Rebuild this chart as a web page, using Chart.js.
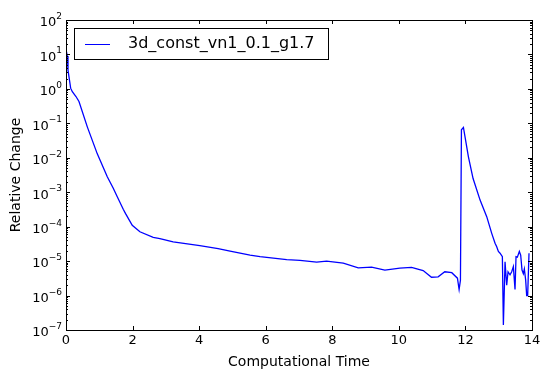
<!DOCTYPE html>
<html lang="en">
<head>
  <meta charset="UTF-8">
  <title>Relative Change</title>
  <script src="https://cdn.jsdelivr.net/npm/chart.js"></script>
  <style>
    html, body { margin: 0; padding: 0; background: #fff; }
    #wrap { width: 549px; height: 380px; }
  </style>
</head>
<body>
  <div id="wrap"><canvas id="chart" width="549" height="380"></canvas></div>

  <script>
    // data
    const seriesName = '3d_const_vn1_0.1_g1.7';
    const times = [0, 0.04, 0.06, 0.14, 0.19, 0.3, 0.39, 0.64, 0.94, 1.24, 1.42, 1.54, 1.72,
      1.79, 1.99, 2.22, 2.62, 2.82, 3.22, 4.02, 4.57, 4.93, 5.53, 5.83, 6.63, 7.03, 7.53, 7.83,
      8.33, 8.78, 9.18, 9.58, 10.03, 10.38, 10.73, 10.98, 11.18, 11.38, 11.59, 11.76, 11.81,
      11.85, 11.88, 11.94, 12.09, 12.23, 12.44, 12.64, 12.79, 12.89, 12.94, 12.99, 13.04, 13.11,
      13.14, 13.19, 13.24, 13.28, 13.34, 13.39, 13.44, 13.49, 13.52, 13.56, 13.62, 13.66, 13.70,
      13.74, 13.77, 13.81, 13.84, 13.87, 13.91];
    const relChange = [14, 9, 3.5, 1.05, 0.83, 0.6, 0.43, 0.079, 0.013, 0.0028, 0.0013, 7.4e-4,
      3.2e-4, 2.4e-4, 1.1e-4, 7.1e-5, 4.9e-5, 4.5e-5, 3.6e-5, 2.8e-5, 2.3e-5, 1.95e-5, 1.5e-5,
      1.35e-5, 1.1e-5, 1.05e-5, 9.3e-6, 1e-5, 8.7e-6, 6.4e-6, 6.7e-6, 5.5e-6, 6.3e-6, 6.6e-6,
      5.3e-6, 3.4e-6, 3.5e-6, 4.9e-6, 4.6e-6, 3.2e-6, 1.5e-6, 2.8e-6, 0.065, 0.076, 0.0107,
      2.5e-3, 5.9e-4, 1.95e-4, 6.4e-5, 3.3e-5, 2.6e-5, 1.9e-5, 1.7e-5, 1.35e-5, 1.4e-7, 9.5e-6,
      2e-6, 4.9e-6, 4e-6, 4.9e-6, 6.9e-6, 1.5e-6, 1.35e-5, 1.3e-5, 1.9e-5, 1.5e-5, 5.5e-6,
      4.3e-6, 5.9e-6, 2.8e-6, 1e-6, 1e-6, 1.7e-5];
    const xTicks = [0, 2, 4, 6, 8, 10, 12, 14];
    const yExponents = [-7, -6, -5, -4, -3, -2, -1, 0, 1, 2];

    const FONT = '"DejaVu Sans", sans-serif';

    function sup(n) {
      return n < 0 ? '\u2212' + (-n) : String(n);
    }

    // matplotlib-like frame, ticks, labels and legend
    const mplAxes = {
      id: 'mplAxes',
      afterDraw(chart) {
        const c = chart.ctx;
        const a = chart.chartArea;
        const xs = chart.scales.x, ys = chart.scales.y;
        c.save();
        c.strokeStyle = '#000';
        c.fillStyle = '#000';
        c.lineWidth = 1;

        // frame
        c.strokeRect(Math.round(a.left) + 0.5, Math.round(a.top) + 0.5,
          Math.round(a.right - a.left), Math.round(a.bottom - a.top));

        c.beginPath();
        // x ticks, bottom and top
        xTicks.forEach(t => {
          const px = Math.round(xs.getPixelForValue(t)) + 0.5;
          c.moveTo(px, a.bottom); c.lineTo(px, a.bottom - 4);
          c.moveTo(px, a.top); c.lineTo(px, a.top + 4);
        });
        // y ticks, left and right, major + minor
        yExponents.forEach(e => {
          const py = Math.round(ys.getPixelForValue(Math.pow(10, e))) + 0.5;
          c.moveTo(a.left, py); c.lineTo(a.left + 4, py);
          c.moveTo(a.right, py); c.lineTo(a.right - 4, py);
          if (e < 2) {
            for (let m = 2; m <= 9; m++) {
              const my = Math.round(ys.getPixelForValue(m * Math.pow(10, e))) + 0.5;
              c.moveTo(a.left, my); c.lineTo(a.left + 2, my);
              c.moveTo(a.right, my); c.lineTo(a.right - 2, my);
            }
          }
        });
        c.stroke();

        // x tick labels
        c.font = '13px ' + FONT;
        c.textAlign = 'center';
        c.textBaseline = 'top';
        xTicks.forEach(t => {
          c.fillText(String(t), xs.getPixelForValue(t), a.bottom + 4);
        });

        // y tick labels 10^e
        yExponents.forEach(e => {
          const py = ys.getPixelForValue(Math.pow(10, e));
          const ex = sup(e);
          c.font = '9px ' + FONT;
          const ew = c.measureText(ex).width;
          c.textAlign = 'left';
          c.textBaseline = 'alphabetic';
          c.fillText(ex, a.left - 4 - ew, py - 1);
          c.font = '13px ' + FONT;
          c.textAlign = 'right';
          c.textBaseline = 'middle';
          c.fillText('10', a.left - 4 - ew, py + 3);
        });

        // axis titles
        c.font = '14px ' + FONT;
        c.textAlign = 'center';
        c.textBaseline = 'middle';
        c.fillText('Computational Time', (a.left + a.right) / 2, 362);
        c.save();
        c.translate(16, (a.top + a.bottom) / 2);
        c.rotate(-Math.PI / 2);
        c.fillText('Relative Change', 0, 0);
        c.restore();

        // legend
        c.fillStyle = '#fff';
        c.fillRect(74.5, 28.5, 254, 31);
        c.strokeRect(74.5, 28.5, 254, 31);
        c.strokeStyle = '#0000ff';
        c.beginPath();
        c.moveTo(85, 44.5); c.lineTo(110, 44.5);
        c.stroke();
        c.fillStyle = '#000';
        c.font = '16px ' + FONT;
        c.textAlign = 'left';
        c.textBaseline = 'middle';
        c.fillText(seriesName, 128, 44);

        c.restore();
      }
    };

    new Chart(document.getElementById('chart'), {
      type: 'line',
      data: {
        datasets: [{
          label: seriesName,
          data: times.map((t, i) => ({ x: t, y: relChange[i] })),
          borderColor: '#0000ff',
          borderWidth: 1.3,
          pointRadius: 0,
          tension: 0,
          fill: false
        }]
      },
      options: {
        responsive: false,
        animation: false,
        layout: { padding: { left: 66, top: 20, right: 17, bottom: 50 } },
        plugins: { legend: { display: false }, tooltip: { enabled: false } },
        scales: {
          x: { type: 'linear', min: 0, max: 14, display: false },
          y: { type: 'logarithmic', min: 1e-7, max: 100, display: false }
        }
      },
      plugins: [mplAxes]
    });
  </script>
</body>
</html>
